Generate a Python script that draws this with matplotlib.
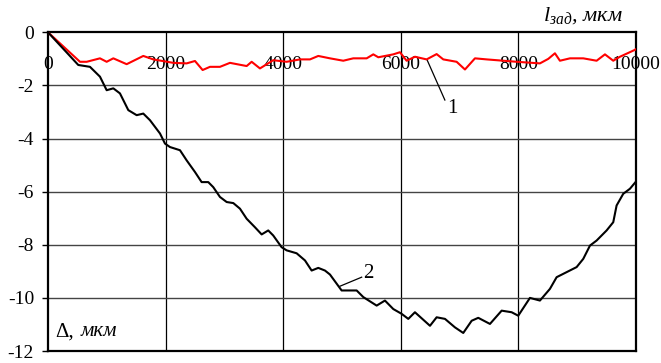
import matplotlib.pyplot as plt

plt.rcParams['font.family'] = 'serif'
plt.rcParams['font.serif'] = ['Liberation Serif', 'DejaVu Serif']
plt.rcParams['mathtext.fontset'] = 'custom'
plt.rcParams['mathtext.rm'] = 'Liberation Serif'
plt.rcParams['mathtext.it'] = 'Liberation Serif:italic'

# curve 1 (red) - deviation with compensation
x1 = [0, 544, 658, 884, 998, 1111, 1338, 1621, 1791, 2131, 2358, 2500, 2630, 2755,
      2925, 3095, 3379, 3464, 3605, 3831, 4059, 4286, 4456, 4597, 4796, 5022, 5192,
      5420, 5533, 5618, 5873, 5986, 6100, 6241, 6440, 6610, 6723, 6950, 7092, 7262,
      7461, 7744, 7971, 8367, 8509, 8622, 8707, 8878, 9104, 9331, 9473, 9614, 9728,
      9983, 10000]
y1 = [0, -1.11, -1.11, -0.98, -1.11, -0.98, -1.20, -0.89, -1.02, -1.15, -1.17, -1.08,
      -1.42, -1.30, -1.30, -1.15, -1.27, -1.11, -1.36, -1.05, -1.11, -1.02, -1.02,
      -0.89, -0.98, -1.07, -0.98, -0.98, -0.83, -0.94, -0.83, -0.75, -1.07, -0.92,
      -1.02, -0.82, -1.02, -1.11, -1.40, -0.98, -1.02, -1.07, -1.11, -1.17, -1.00,
      -0.79, -1.07, -0.98, -0.98, -1.07, -0.83, -1.07, -0.92, -0.66, -0.63]

# curve 2 (black) - deviation without compensation
x2 = [0, 515, 714, 884, 998, 1111, 1224, 1366, 1508, 1621, 1735, 1905, 1990, 2075,
      2245, 2358, 2500, 2613, 2726, 2811, 2925, 3039, 3152, 3265, 3379, 3520, 3634,
      3746, 3831, 3973, 4059, 4229, 4371, 4484, 4597, 4711, 4796, 4994, 5250, 5363,
      5590, 5731, 5873, 6015, 6128, 6241, 6497, 6610, 6752, 6922, 7063, 7206, 7318,
      7517, 7716, 7886, 7998, 8197, 8367, 8537, 8651, 8991, 9104, 9218, 9331, 9501,
      9614, 9671, 9784, 9898, 10000]
y2 = [0, -1.23, -1.30, -1.67, -2.18, -2.11, -2.30, -2.93, -3.12, -3.06, -3.31, -3.81,
      -4.19, -4.32, -4.44, -4.82, -5.26, -5.64, -5.64, -5.83, -6.20, -6.39, -6.43,
      -6.64, -7.02, -7.34, -7.61, -7.46, -7.65, -8.09, -8.21, -8.32, -8.59, -8.97,
      -8.87, -8.97, -9.12, -9.72, -9.72, -9.97, -10.29, -10.10, -10.42, -10.60,
      -10.79, -10.54, -11.05, -10.73, -10.79, -11.11, -11.32, -10.86, -10.75, -10.98,
      -10.48, -10.54, -10.67, -10.00, -10.10, -9.66, -9.22, -8.84, -8.53, -8.03,
      -7.84, -7.46, -7.15, -6.52, -6.08, -5.89, -5.62]

xticks = [0, 2000, 4000, 6000, 8000, 10000]
yticks = [0, -2, -4, -6, -8, -10, -12]

fig = plt.figure(figsize=(6.61, 3.63), dpi=100)
ax = fig.add_axes([0.0726, 0.033, 0.8895, 0.878])

ax.set_xlim(0, 10000)
ax.set_ylim(-12, 0)

for xv in xticks[1:-1]:
    ax.axvline(xv, color='black', lw=0.9, zorder=1)
for yv in yticks[1:-1]:
    ax.axhline(yv, color='#444444', lw=1.0, zorder=1)

ax.plot(x1, y1, color='#ff0000', lw=1.5, zorder=3,
        solid_joinstyle='round', solid_capstyle='round')
ax.plot(x2, y2, color='black', lw=1.5, zorder=3,
        solid_joinstyle='round', solid_capstyle='round')

for s in ax.spines.values():
    s.set_linewidth(1.6)

ax.set_xticks([])
ax.set_yticks(yticks)
ax.set_yticklabels([str(v) for v in yticks], fontsize=14)
ax.tick_params(axis='y', direction='out', length=4, width=1, pad=6)

# x labels sit inside the plot just below the top frame
for xv in xticks:
    ax.text(xv, -1.22, str(xv), ha='center', va='center', fontsize=14, zorder=2)

ax.text(0.977, 1.02, r'$\mathit{l}_{\mathit{зад}}$, мкм', transform=ax.transAxes,
        ha='right', va='bottom', fontsize=16, style='italic')
ax.text(0.012, 0.06, 'Δ,', transform=ax.transAxes, ha='left', va='center',
        fontsize=15)
ax.text(0.055, 0.06, 'мкм', transform=ax.transAxes, ha='left', va='center',
        fontsize=15, style='italic')

# curve labels with leader lines
ax.plot([6450, 6750], [-1.05, -2.55], color='black', lw=0.9)
ax.text(6880, -2.85, '1', ha='center', va='center', fontsize=15)
ax.plot([4966, 5335], [-9.56, -9.22], color='black', lw=0.9)
ax.text(5450, -9.1, '2', ha='center', va='center', fontsize=15)

fig.savefig('out.png', dpi=100)
